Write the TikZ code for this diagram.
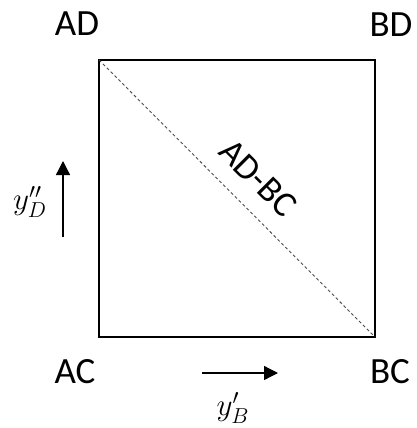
\documentclass[tikz,border=0pt]{standalone}
\usepackage{fontspec}
\setmainfont{Carlito}
\usetikzlibrary{arrows.meta}
\begin{document}
\begin{tikzpicture}[x=1pt,y=-1pt,
  corner/.style={font=\fontsize{37}{44}\selectfont, inner sep=0pt},
  diag/.style={font=\fontsize{36}{42}\selectfont, inner sep=0pt},
  mathlab/.style={font=\fontsize{20}{24}\selectfont, inner sep=0pt, scale=1.5, transform shape},
  box/.style={draw=black, line width=2pt},
  dashline/.style={draw=black!70, line width=0.9pt, dash pattern=on 3pt off 2.5pt},
  dirarrow/.style={draw=black, line width=1.3pt, -{Triangle[length=14pt,width=14pt]}}]
\useasboundingbox (0,0) rectangle (416,428);
\coordinate (tl) at (99,60);
\coordinate (tr) at (375,60);
\coordinate (br) at (375,337);
\coordinate (bl) at (99,337);
\draw[box] (tl) -- (tr) -- (br) -- (bl) -- cycle;
\draw[dashline] (tl) -- (br);
\node[corner] (ad) at (77,24) {AD};
\node[corner] (bd) at (391,25) {BD};
\node[corner] (ac) at (75,372) {AC};
\node[corner] (bc) at (390,372) {BC};
\node[diag, rotate=-45] (adbc) at (258,178) {AD-BC};
\coordinate (va) at (63,237);
\coordinate (vb) at (63,161);
\draw[dirarrow] (va) -- (vb);
\coordinate (ha) at (202,373);
\coordinate (hb) at (278,373);
\draw[dirarrow] (ha) -- (hb);
\node[mathlab] (yd) at (30,202) {$y''_D$};
\node[mathlab] (yb) at (233,408) {$y'_B$};
\end{tikzpicture}
\end{document}
